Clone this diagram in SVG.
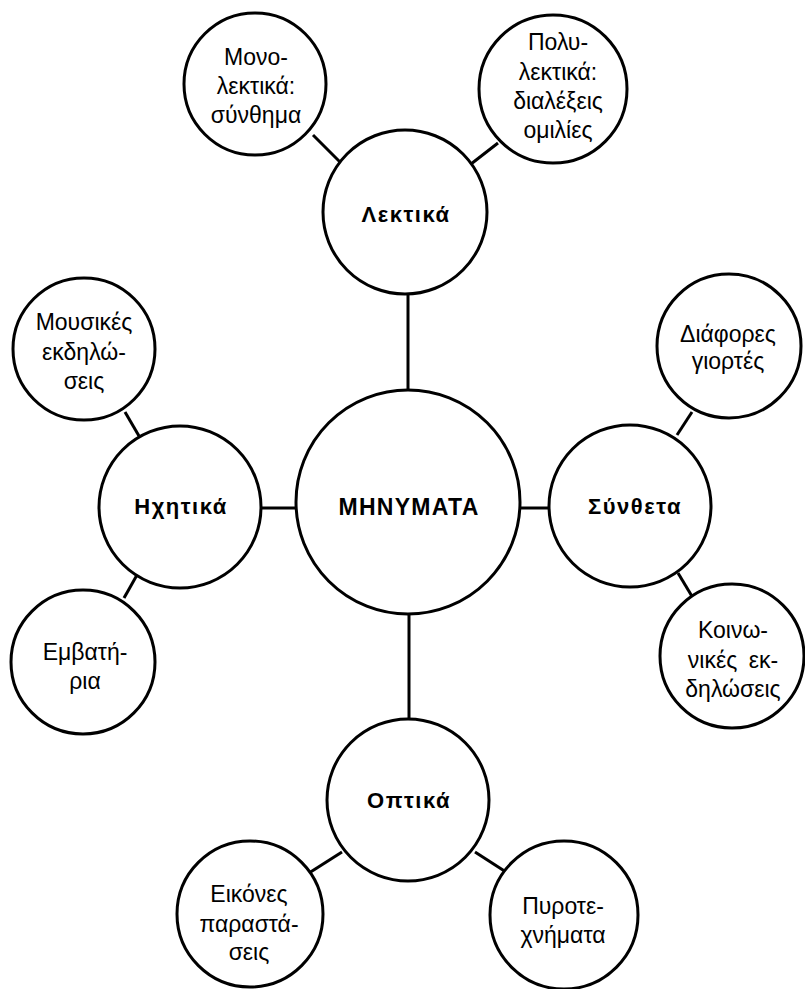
<svg xmlns="http://www.w3.org/2000/svg" width="805" height="989" viewBox="0 0 805 989">
<style>
.n{fill:#fff;stroke:#000;stroke-width:3}
.c line{stroke:#000;stroke-width:3}
text{font-family:"Liberation Sans",Arial,sans-serif;fill:#000;text-anchor:middle}
.s{font-size:23px}
.b{font-size:22px;font-weight:bold;letter-spacing:1.5px}
.m{font-size:23px;font-weight:bold;letter-spacing:1.3px}
</style>
<rect width="805" height="989" fill="#fff"/>
<g class="c" id="connectors">
<line x1="408" y1="294" x2="408" y2="391"/>
<line x1="261" y1="508" x2="297" y2="508"/>
<line x1="519" y1="508" x2="550" y2="508"/>
<line x1="409" y1="613" x2="409" y2="720"/>
<line x1="313" y1="135" x2="341" y2="163"/>
<line x1="498" y1="143" x2="471" y2="164"/>
<line x1="125" y1="412" x2="139" y2="436"/>
<line x1="137" y1="575" x2="124" y2="598"/>
<line x1="677" y1="435" x2="692" y2="412"/>
<line x1="678" y1="573" x2="693" y2="598"/>
<line x1="342" y1="852" x2="309" y2="873"/>
<line x1="475" y1="852" x2="506" y2="872"/>
</g>
<g id="mhnymata"><circle class="n" cx="408" cy="502" r="112"/><text class="m" x="409" y="515">MHNYMATA</text></g>
<g id="lektika"><circle class="n" cx="405" cy="212" r="82"/><text class="b" x="406" y="222">Λεκτικά</text></g>
<g id="ichitika"><circle class="n" cx="180" cy="507" r="81"/><text class="b" x="181" y="514">Ηχητικά</text></g>
<g id="syntheta"><circle class="n" cx="630" cy="506" r="81"/><text class="b" x="635" y="514">Σύνθετα</text></g>
<g id="optika"><circle class="n" cx="408" cy="800" r="81"/><text class="b" x="409" y="808">Οπτικά</text></g>
<g id="mono"><circle class="n" cx="255" cy="84" r="71"/><text class="s"><tspan x="256" y="65">Μονο-</tspan><tspan x="256" y="94">λεκτικά:</tspan><tspan x="256" y="123">σύνθημα</tspan></text></g>
<g id="poly"><circle class="n" cx="553" cy="89" r="74"/><text class="s"><tspan x="558" y="50">Πολυ-</tspan><tspan x="558" y="80">λεκτικά:</tspan><tspan x="558" y="109">διαλέξεις</tspan><tspan x="558" y="138">ομιλίες</tspan></text></g>
<g id="mousikes"><circle class="n" cx="84" cy="349" r="71"/><text class="s"><tspan x="84" y="330">Μουσικές</tspan><tspan x="84" y="360">εκδηλώ-</tspan><tspan x="84" y="389">σεις</tspan></text></g>
<g id="emvatiria"><circle class="n" cx="83" cy="662" r="72"/><text class="s"><tspan x="85" y="660">Εμβατή-</tspan><tspan x="85" y="689">ρια</tspan></text></g>
<g id="diafores"><circle class="n" cx="729" cy="346" r="72"/><text class="s"><tspan x="728" y="342">Διάφορες</tspan><tspan x="728" y="369">γιορτές</tspan></text></g>
<g id="koinonikes"><circle class="n" cx="732" cy="656" r="72"/><text class="s"><tspan x="733" y="638">Κοινω-</tspan><tspan x="733" y="668" word-spacing="5">νικές εκ-</tspan><tspan x="733" y="697">δηλώσεις</tspan></text></g>
<g id="eikones"><circle class="n" cx="250" cy="914" r="73"/><text class="s"><tspan x="249" y="902">Εικόνες</tspan><tspan x="249" y="932">παραστά-</tspan><tspan x="249" y="960">σεις</tspan></text></g>
<g id="pyrotechnimata"><circle class="n" cx="564" cy="915" r="74"/><text class="s"><tspan x="563" y="914">Πυροτε-</tspan><tspan x="563" y="943">χνήματα</tspan></text></g>
</svg>
